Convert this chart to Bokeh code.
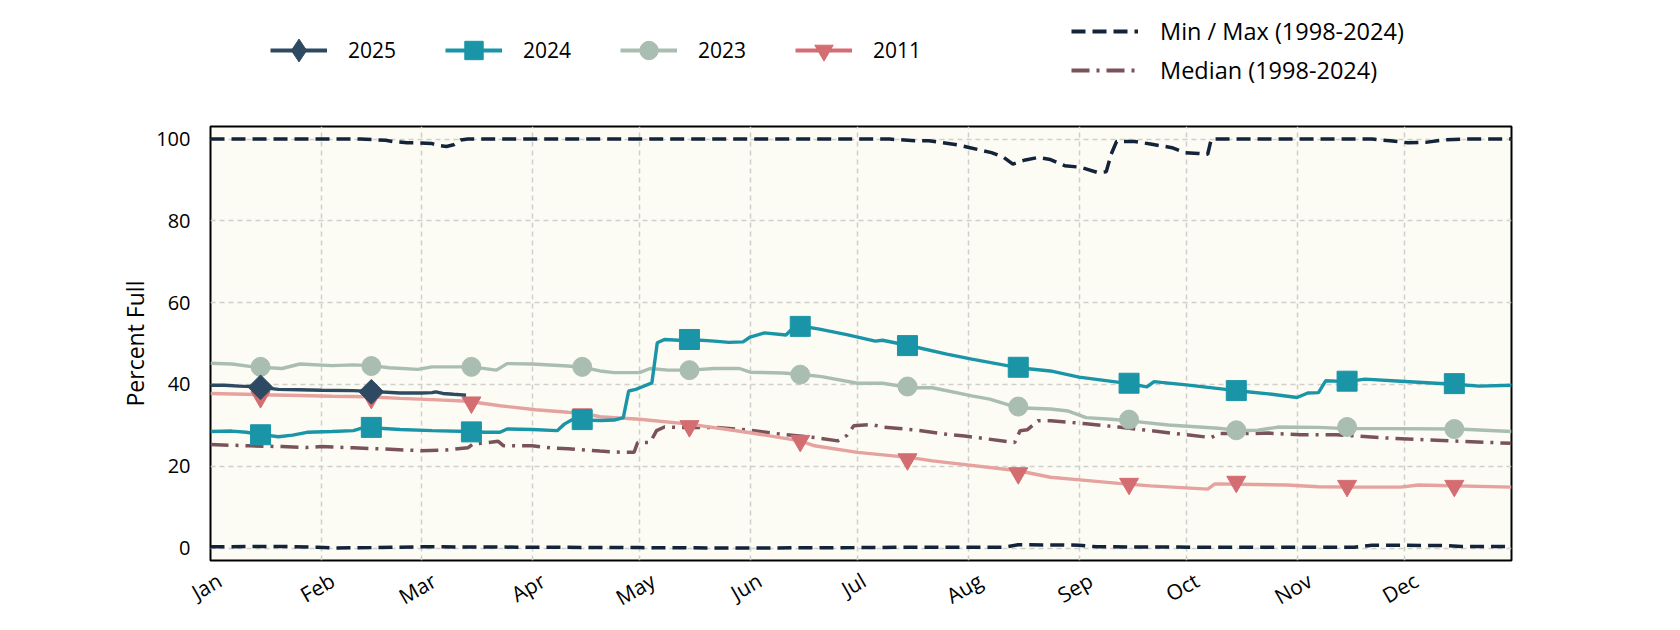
import numpy as np
from bokeh.plotting import figure
from bokeh.layouts import column
from bokeh.models import Range1d, FixedTicker, Legend, LegendItem
from bokeh.embed import file_html
from bokeh.resources import INLINE

# ---------------- data (day of year, percent full) ----------------
month_names = ["Jan", "Feb", "Mar", "Apr", "May", "Jun", "Jul", "Aug", "Sep", "Oct", "Nov", "Dec"]
month_starts = [0, 31, 59, 90, 120, 151, 181, 212, 243, 273, 304, 334]
marker_days = [14, 45, 73, 104, 134, 165, 195, 226, 257, 287, 318, 348]
y_ticks = [0, 20, 40, 60, 80, 100]

d25 = [0, 4, 8, 12, 14, 19, 25, 31, 40, 45, 53, 59, 62, 63, 65, 68, 71.5]
v25 = [39.8, 39.8, 39.6, 39.5, 39.3, 38.8, 38.7, 38.6, 38.5, 38.3, 37.9, 37.9, 38.0, 38.2, 37.8, 37.6, 37.4]
m25 = [39.3, 38.2]

d24 = [0, 6, 10, 14, 19, 23, 27, 34, 40, 43, 45, 53, 62, 72, 77, 81, 83, 90, 97, 99,
       101, 104, 109, 113, 115.5, 117, 119, 121, 123.5, 125, 127, 131, 134, 141, 145, 149, 151, 155, 161, 163,
       165, 170, 178, 186, 188, 196, 206, 213, 226, 235, 243, 257, 262, 264, 266, 273, 284, 288, 296, 304,
       307, 310, 312, 318, 323, 333, 349, 355, 364]
v24 = [28.5, 28.6, 28.3, 27.8, 27.2, 27.6, 28.3, 28.5, 28.7, 29.5, 29.4, 29.0, 28.7, 28.5, 28.3, 28.3, 29.1, 29.0, 28.7, 30.3,
       31.3, 31.3, 31.2, 31.3, 31.9, 38.4, 38.8, 39.5, 40.4, 50.2, 51.0, 50.8, 51.0, 50.6, 50.3, 50.4, 51.6, 52.6, 52.1, 53.8,
       54.3, 53.6, 52.2, 50.6, 50.8, 49.4, 47.4, 46.2, 44.1, 43.3, 41.8, 40.2, 39.4, 40.7, 40.5, 39.9, 38.8, 38.4, 37.7, 36.8,
       37.9, 38.0, 40.9, 40.7, 41.3, 40.8, 40.0, 39.6, 39.8]
m24 = [27.7, 29.5, 28.4, 31.4, 51.0, 54.2, 49.5, 44.2, 40.3, 38.5, 40.8, 40.2]

d23 = [0, 6, 12, 20, 25, 34, 40, 45, 50, 58, 62, 68, 73, 80, 83, 90, 100, 104, 109, 113,
       120, 123, 128, 134, 141, 148, 151, 160, 165, 171, 181, 188, 196, 202, 213, 218, 226, 235, 240, 245,
       252, 257, 268, 282, 288, 293, 299, 310, 318, 330, 349, 364]
v23 = [45.2, 45.0, 44.3, 43.9, 45.0, 44.6, 44.8, 44.6, 44.1, 43.7, 44.3, 44.3, 44.3, 43.5, 45.1, 45.0, 44.5, 44.2, 43.3, 42.9,
       42.9, 43.9, 43.5, 43.5, 43.9, 43.9, 43.0, 42.8, 42.5, 41.9, 40.3, 40.3, 39.2, 39.2, 37.2, 36.4, 34.3, 34.0, 33.5, 31.9,
       31.5, 31.1, 30.1, 29.3, 28.7, 28.8, 29.6, 29.5, 29.2, 29.2, 29.1, 28.5]
m23 = [44.3, 44.5, 44.3, 44.3, 43.5, 42.4, 39.5, 34.6, 31.4, 28.8, 29.6, 29.1]

d11 = [0, 14, 25, 34, 44, 53, 62, 72, 81, 91, 100, 104, 109, 113, 120, 134, 151, 165, 169, 181,
       196, 202, 226, 235, 244, 254, 263, 279, 281, 288, 301, 310, 319, 333, 338, 364]
v11 = [37.8, 37.5, 37.3, 37.1, 37.0, 36.6, 36.3, 35.9, 34.8, 33.8, 33.2, 33.0, 32.1, 31.9, 31.5, 30.3, 28.2, 26.2, 25.0, 23.4,
       22.1, 21.3, 18.9, 17.3, 16.6, 15.8, 15.2, 14.4, 15.7, 15.6, 15.4, 15.0, 14.9, 14.9, 15.4, 14.9]
m11 = [36.9, 36.7, 35.6, 32.7, 29.8, 26.2, 21.7, 18.3, 15.7, 16.2, 15.2, 15.2]

d_med = [0, 11, 20, 27, 31, 40, 49, 59, 66, 72, 73.5, 76, 80.5, 82, 90, 95, 100, 109, 115, 118.5,
         119.5, 123, 124.8, 127, 131, 141, 150, 160, 169, 175.5, 178, 180, 185, 188, 197, 206, 211, 225, 226.5, 228.5,
         231.5, 235, 245, 254, 263, 273, 280, 282, 291, 296, 305, 315, 329, 347, 364]
v_med = [25.3, 25.0, 24.8, 24.6, 24.8, 24.5, 24.2, 23.8, 24.0, 24.5, 25.5, 25.6, 26.1, 25.0, 25.0, 24.5, 24.3, 23.7, 23.4, 23.4,
         25.8, 25.8, 28.7, 29.6, 29.5, 29.5, 28.9, 27.8, 27.0, 26.2, 27.5, 29.9, 30.2, 29.6, 28.9, 27.8, 27.4, 25.8, 28.7, 28.9,
         31.1, 31.1, 30.4, 29.6, 28.7, 27.7, 27.0, 28.0, 28.0, 28.1, 27.7, 27.7, 26.9, 26.2, 25.6]

d_max = [0, 42, 45, 49, 51, 55, 58, 62, 64, 66, 68, 70, 72, 190, 197, 201, 209, 212.5, 218.5, 222,
         224.5, 228, 231.5, 235, 239, 243.5, 248.3, 250.6, 252, 253.5, 258.6, 263, 269, 272.6, 276.4, 279, 280, 325, 330, 335,
         340, 345, 350, 364]
v_max = [100, 100, 99.9, 99.7, 99.4, 99.1, 99.1, 98.9, 98.4, 98.2, 98.6, 99.8, 100, 100, 99.6, 99.6, 98.6, 97.9, 96.7, 95.5,
         93.9, 94.9, 95.5, 95.0, 93.5, 93.1, 91.8, 92.0, 96.3, 99.4, 99.4, 98.8, 97.9, 96.7, 96.5, 96.3, 100, 100, 99.6, 99.1,
         99.2, 99.8, 100, 100]

d_min = [0, 20, 30, 35, 45, 60, 90, 120, 150, 180, 200, 222, 226, 243, 248, 280, 320, 325, 345, 350, 364]
v_min = [0.3, 0.4, 0.2, 0.0, 0.1, 0.3, 0.2, 0.1, 0.0, 0.1, 0.2, 0.2, 0.8, 0.7, 0.3, 0.2, 0.2, 0.7, 0.6, 0.4, 0.4]

# ---------------- style ----------------
FONT = "Open Sans"
C25, C24, C23 = "#2e4a62", "#1a95a7", "#aabdb1"
C11_LINE, C11_MARK = "#e5a29e", "#d36d72"
C_MED, C_MAX = "#7a535a", "#13233a"
LW = 3.4
DASH_MM = "14 7"
DASH_MED = "18 7 3 7"
PX_PER_DAY = 1301 / 364.0
LABEL_PX = 21

# ---------------- legend strip ----------------
top = figure(frame_width=1680, frame_height=110, min_border=0,
             x_range=Range1d(0, 1), y_range=Range1d(0, 1),
             x_axis_type=None, y_axis_type=None,
             output_backend="svg", toolbar_location=None,
             outline_line_color=None, background_fill_color="white", border_fill_color="white")
top.grid.visible = False

nan = [np.nan]
def leg_pair(color, marker):
    r1 = top.line(nan, nan, color=color, line_width=4)
    r2 = top.scatter(nan, nan, marker=marker, color=color)
    return [r1, r2]

items_a = [LegendItem(label="2025", renderers=leg_pair(C25, "diamond"))]
items_b = [
    LegendItem(label="2024", renderers=leg_pair(C24, "square")),
    LegendItem(label="2023", renderers=leg_pair(C23, "circle")),
    LegendItem(label="2011", renderers=leg_pair(C11_MARK, "inverted_triangle")),
]
r_mm = top.line(nan, nan, color=C_MAX, line_width=4, line_dash=DASH_MM)
r_md = top.line(nan, nan, color=C_MED, line_width=4, line_dash=DASH_MED)
items2 = [LegendItem(label="Min / Max (1998-2024)", renderers=[r_mm]),
          LegendItem(label="Median (1998-2024)", renderers=[r_md])]

def style_legend(lg, font_px):
    lg.label_text_font = FONT
    lg.label_text_font_size = font_px
    lg.label_text_color = "black"
    lg.border_line_alpha = 0
    lg.background_fill_alpha = 0
    lg.padding = 0
    lg.margin = 0
    return lg

# 2025 on its own so that its diamond can be drawn a little larger
leg_a = style_legend(Legend(items=items_a, orientation="horizontal", location=(270, 31)), "21px")
leg_a.glyph_width = 57
leg_a.glyph_height = 58
leg_a.label_height = 58
leg_a.label_standoff = 21

leg_b = style_legend(Legend(items=items_b, orientation="horizontal", location=(445, 37)), "21px")
leg_b.glyph_width = 57
leg_b.glyph_height = 46
leg_b.label_height = 46
leg_b.label_standoff = 21
leg_b.spacing = 49

leg2 = style_legend(Legend(items=items2, orientation="vertical", location=(1071, 24)), "23.5px")
leg2.glyph_width = 67
leg2.glyph_height = 26
leg2.label_height = 26
leg2.spacing = 7
leg2.label_standoff = 22
for lg in (leg_a, leg_b, leg2):
    top.add_layout(lg)

# ---------------- main chart ----------------
p = figure(frame_width=1301, frame_height=434,
           min_border_left=210, min_border_right=169, min_border_top=16, min_border_bottom=70,
           x_range=Range1d(0, 364), y_range=Range1d(-3.05, 103.08),
           output_backend="svg", toolbar_location=None,
           background_fill_color="#fcfcf4", border_fill_color="white",
           outline_line_color="black", outline_line_width=2)

p.xgrid.ticker = FixedTicker(ticks=month_starts)
p.ygrid.ticker = FixedTicker(ticks=y_ticks)
for g in (p.xgrid, p.ygrid):
    g.grid_line_color = "#cfcfcb"
    g.grid_line_width = 1.5
    g.grid_line_dash = "5 4"

# month labels: rotated 30 degrees and centred under each month start
em = {"Jan": 1.44, "Feb": 1.70, "Mar": 1.86, "Apr": 1.65, "May": 1.95, "Jun": 1.49,
      "Jul": 1.14, "Aug": 1.79, "Sep": 1.72, "Oct": 1.61, "Nov": 1.85, "Dec": 1.75}
label_pos = [round(m + (em[n] * LABEL_PX * 0.433 - 4) / PX_PER_DAY, 3) for m, n in zip(month_starts, month_names)]
p.xaxis.ticker = FixedTicker(ticks=label_pos)
p.xaxis.major_label_overrides = {pos: n for pos, n in zip(label_pos, month_names)}
p.xaxis.major_label_orientation = np.pi / 6
p.yaxis.ticker = FixedTicker(ticks=y_ticks)
p.yaxis.axis_label = "Percent Full"
for ax in (p.xaxis, p.yaxis):
    ax.axis_line_color = None
    ax.major_tick_line_color = None
    ax.minor_tick_line_color = None
    ax.major_label_text_font = FONT
    ax.major_label_text_color = "black"
p.xaxis.major_label_text_font_size = f"{LABEL_PX}px"
p.yaxis.major_label_text_font_size = "20px"
p.xaxis.major_label_standoff = 12
p.yaxis.major_label_standoff = 14
p.yaxis.axis_label_text_font = FONT
p.yaxis.axis_label_text_font_size = "23px"
p.yaxis.axis_label_text_font_style = "normal"
p.yaxis.axis_label_text_color = "black"
p.yaxis.axis_label_standoff = 2

p.line(d_max, v_max, color=C_MAX, line_width=3.5, line_dash=DASH_MM)
p.line(d_min, v_min, color=C_MAX, line_width=3.5, line_dash=DASH_MM)
p.line(d_med, v_med, color=C_MED, line_width=3.5, line_dash=DASH_MED)

p.line(d11, v11, color=C11_LINE, line_width=LW)
p.scatter(marker_days, m11, marker="inverted_triangle", size=19, color=C11_MARK)

p.line(d23, v23, color=C23, line_width=LW)
p.scatter(marker_days, m23, marker="circle", size=19, color=C23)

p.line(d24, v24, color=C24, line_width=LW)
p.scatter(marker_days, m24, marker="square", size=20, color=C24)

p.line(d25, v25, color=C25, line_width=LW)
p.scatter(marker_days[:len(m25)], m25, marker="square", angle=np.pi / 4, size=17.5, color=C25)

layout = column(top, p, spacing=0)
open("out.html", "w").write(file_html(layout, INLINE))
